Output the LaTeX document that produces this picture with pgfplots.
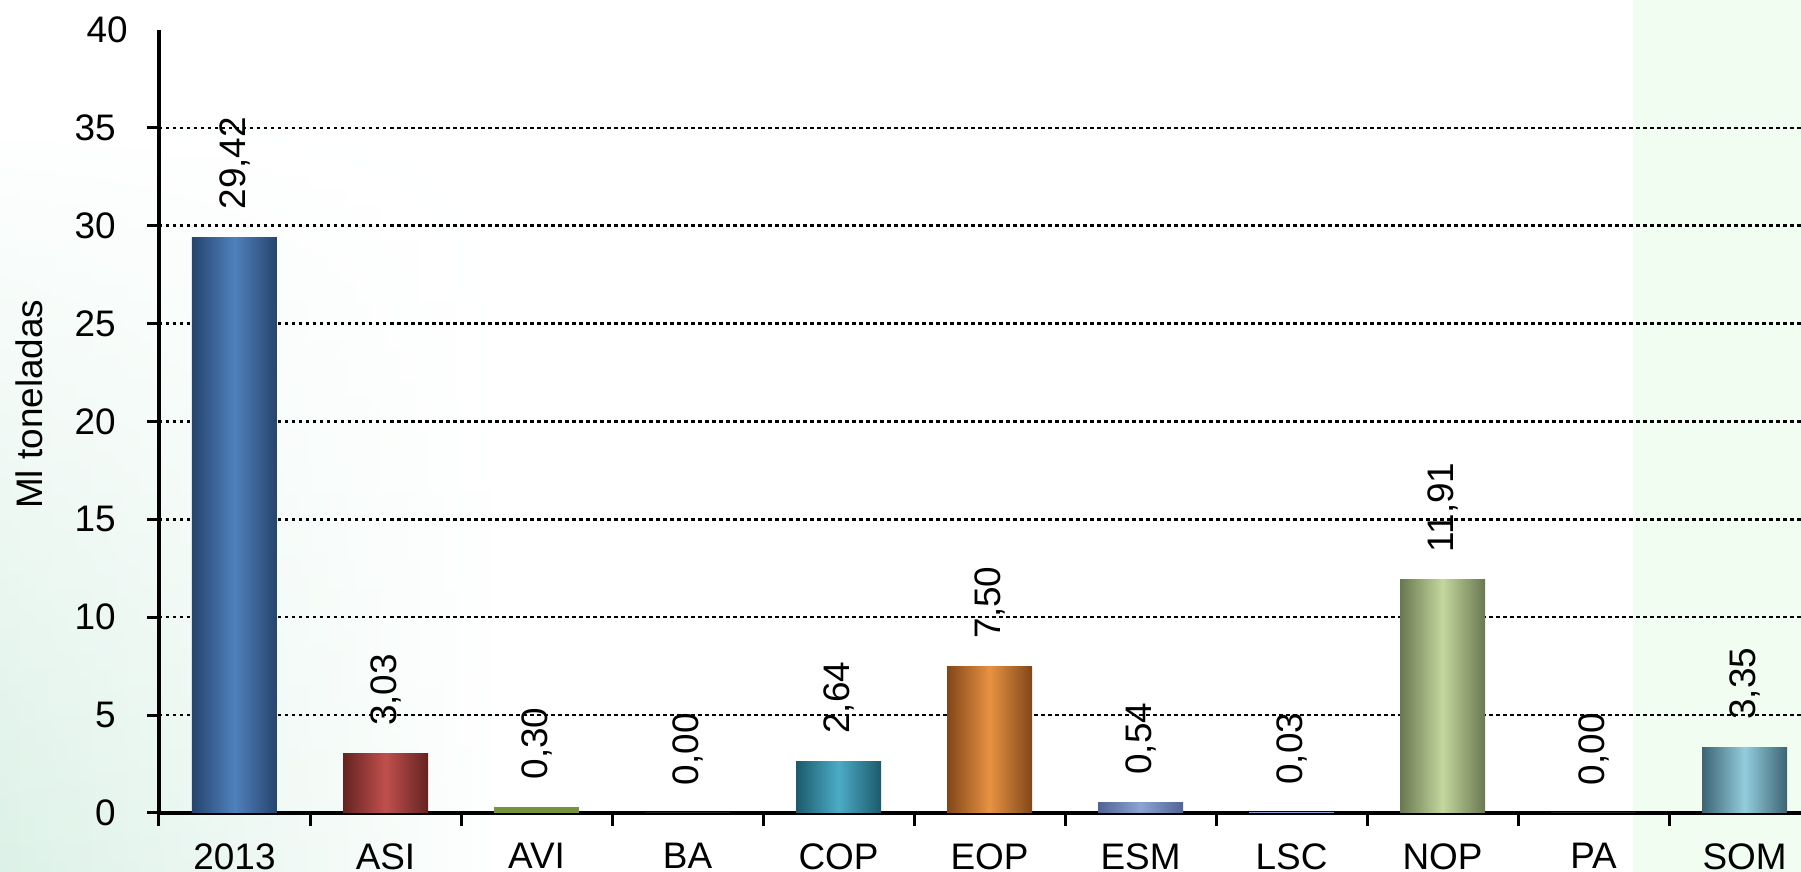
\documentclass[border=0pt]{standalone}
\usepackage{pgfplots}
\pgfplotsset{compat=1.18}
\usetikzlibrary{fadings}
\usepackage{fontspec}
\setmainfont{Liberation Sans}
\definecolor{cBlue}{RGB}{79,129,189}
\definecolor{cBlueD}{RGB}{38,68,110}
\definecolor{cRed}{RGB}{192,80,77}
\definecolor{cRedD}{RGB}{100,35,33}
\definecolor{cOlive}{RGB}{119,147,60}
\definecolor{cTeal}{RGB}{75,172,198}
\definecolor{cTealD}{RGB}{28,90,108}
\definecolor{cOrange}{RGB}{232,146,66}
\definecolor{cOrangeD}{RGB}{130,70,25}
\definecolor{cPeri}{RGB}{141,163,212}
\definecolor{cPeriD}{RGB}{80,100,150}
\definecolor{cLGreen}{RGB}{196,215,158}
\definecolor{cLGreenD}{RGB}{105,120,80}
\definecolor{cLBlue}{RGB}{147,205,221}
\definecolor{cLBlueD}{RGB}{60,100,115}
\definecolor{mint}{RGB}{220,241,231}
\definecolor{mintR}{RGB}{242,253,242}
\begin{document}
\begin{tikzpicture}
% background tints
\fill[mintR] (14.74cm,-0.59cm) rectangle (16.42cm,8.13cm);
\shade[left color=mint, right color=white, path fading=north] (-1.59cm,-0.59cm) rectangle (3.5cm,7.0cm);
\begin{axis}[
  scale only axis,
  width=16.42cm, height=7.83cm,
  xmin=-0.5, xmax=10.374, ymin=0, ymax=40,
  axis x line*=bottom, axis y line*=left,
  axis line style={line width=0.33mm, black},
  ybar, bar width=0.85cm, bar shift=0pt,
  xtick={0,...,10},
  xticklabels={2013,ASI,AVI,BA,COP,EOP,ESM,LSC,NOP,PA,SOM},
  major x tick style={draw=none},
  minor xtick={-0.5,0.5,...,9.5},
  minor tick length=1.3mm,
  major tick length=1.2mm,
  tick align=outside,
  tick style={line width=0.3mm, black},
  ytick={0,5,...,35},
  extra y ticks={40},
  extra y tick style={grid=none, major tick length=0pt},
  ymajorgrids,
  major grid style={black, line width=0.25mm, dash pattern=on 0.35mm off 0.35mm},
  ylabel={Ml toneladas},
  ylabel style={font=\fontsize{10.5}{12}\selectfont, at={(axis description cs:-0.079,0.522)}, anchor=center},
  tick label style={font=\fontsize{10.5}{12}\selectfont},
  yticklabel style={xshift=-1.9mm},
  xticklabel style={yshift=-0.6mm},
  /pgf/number format/assume math mode=true,
  nodes near coords,
  point meta=explicit symbolic,
  every node near coord/.append style={font=\fontsize{10.5}{12}\selectfont, rotate=90, anchor=west, inner xsep=2.7mm, inner ysep=0pt, black},
]
\addplot[draw=none, left color=cBlueD, right color=cBlueD, middle color=cBlue] coordinates {(0,29.42) [29,42]};
\addplot[draw=none, left color=cRedD, right color=cRedD, middle color=cRed] coordinates {(1,3.03) [3,03]};
\addplot[draw=none, fill=cOlive] coordinates {(2,0.30) [0,30]};
\addplot[draw=none, fill=white] coordinates {(3,0.00) [0,00]};
\addplot[draw=none, left color=cTealD, right color=cTealD, middle color=cTeal] coordinates {(4,2.64) [2,64]};
\addplot[draw=none, left color=cOrangeD, right color=cOrangeD, middle color=cOrange] coordinates {(5,7.50) [7,50]};
\addplot[draw=none, left color=cPeriD, right color=cPeriD, middle color=cPeri] coordinates {(6,0.54) [0,54]};
\addplot[draw=none, fill=cPeri] coordinates {(7,0.03) [0,03]};
\addplot[draw=none, left color=cLGreenD, right color=cLGreenD, middle color=cLGreen] coordinates {(8,11.91) [11,91]};
\addplot[draw=none, fill=white] coordinates {(9,0.00) [0,00]};
\addplot[draw=none, left color=cLBlueD, right color=cLBlueD, middle color=cLBlue] coordinates {(10,3.35) [3,35]};
\end{axis}
\pgfresetboundingbox
\path (-1.59cm,-0.59cm) rectangle (16.42cm,8.13cm);
\end{tikzpicture}
\end{document}
